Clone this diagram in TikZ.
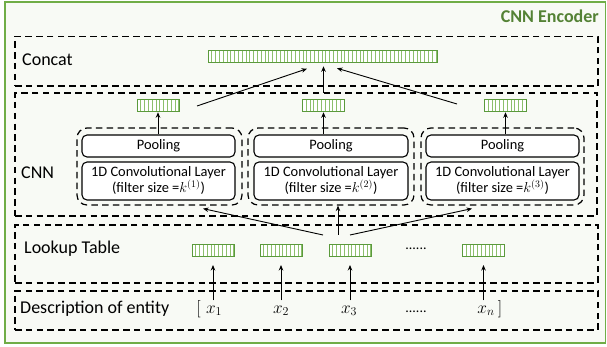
\documentclass[tikz,border=0pt]{standalone}
\usepackage{fontspec}
\setmainfont{Carlito}
\usetikzlibrary{arrows.meta,calc}
\definecolor{bgc}{HTML}{F8FAF5}
\definecolor{framec}{HTML}{70AD47}
\definecolor{hdrc}{HTML}{548235}
\definecolor{vborder}{HTML}{5B9A3C}
\definecolor{vstripe}{HTML}{8DBF6C}
\begin{document}
\begin{tikzpicture}[x=1pt,y=-1pt,
  dashbox/.style={draw, dash pattern=on 6.5pt off 4.3pt, line width=1.2pt},
  grpbox/.style={dashbox, rounded corners=10pt, inner sep=0pt},
  layerbox/.style={draw, line width=1.1pt, rounded corners=5pt, fill=white, inner sep=0pt, align=center, font=\fontsize{14.4}{16}\selectfont},
  vecbox/.style={draw=vborder, line width=1pt, fill=white, inner sep=0pt, outer sep=0pt, minimum height=11.5pt,
    path picture={\foreach \k in {1,...,70}{\draw[vstripe, line width=0.9pt] ([xshift=\k*3.8pt]path picture bounding box.south west) -- ([xshift=\k*3.8pt]path picture bounding box.north west);}}},
  arr/.style={-{Stealth[length=5.5pt,width=4.5pt]}, line width=0.9pt},
  lbl/.style={font=\fontsize{18}{20}\selectfont, anchor=base west, inner sep=0pt},
  mlbl/.style={font=\fontsize{18}{20}\selectfont, anchor=base, inner sep=0pt},
  dots/.style={font=\fontsize{14}{16}\selectfont, anchor=base, inner sep=0pt},
]
\useasboundingbox (0,0) rectangle (607,347);
\fill[white] (0,0) rectangle (607,347);
\draw[framec, fill=bgc, line width=1.5pt] (5,2) rectangle (605.5,343);
\node[anchor=base east, inner sep=0pt, text=hdrc, font=\fontsize{18}{20}\selectfont\bfseries] (hdr) at (599,22.5) {CNN Encoder};

% layer boxes
\node[dashbox, minimum width=583pt, minimum height=49.5pt, inner sep=0pt] (concatbox) at (306.5,61.25) {};
\node[dashbox, minimum width=582pt, minimum height=123pt, inner sep=0pt] (cnnbox) at (306,154.5) {};
\node[dashbox, minimum width=583pt, minimum height=58pt, inner sep=0pt] (lookbox) at (306.5,254) {};
\node[dashbox, minimum width=583pt, minimum height=39pt, inner sep=0pt] (descbox) at (306.5,310.5) {};

\node[lbl] (lconcat) at (22,65.5) {Concat};
\node[lbl] (lcnn) at (21,178.5) {CNN};
\node[lbl] (llook) at (24,254) {Lookup Table};
\node[lbl] (ldesc) at (20,313.3) {Description of entity};

% concat vector
\node[vecbox, minimum width=229pt] (cat) at (322.5,56.5) {};

% groups
\node[grpbox, minimum width=165pt, minimum height=77pt] (g1) at (159.5,166.5) {};
\node[grpbox, minimum width=166pt, minimum height=77pt] (g2) at (331,166.5) {};
\node[grpbox, minimum width=163pt, minimum height=77pt] (g3) at (502.5,166.5) {};

\node[layerbox, minimum width=153pt, minimum height=22pt] (p1) at (158.5,146) {Pooling};
\node[layerbox, minimum width=154pt, minimum height=22pt] (p2) at (331,146) {Pooling};
\node[layerbox, minimum width=153pt, minimum height=22pt] (p3) at (502.5,146) {Pooling};

\node[layerbox, minimum width=153pt, minimum height=38pt] (k1) at (158.5,181) {1D Convolutional Layer\\(filter size =$k^{(1)}$)};
\node[layerbox, minimum width=154pt, minimum height=38pt] (k2) at (331,181) {1D Convolutional Layer\\(filter size =$k^{(2)}$)};
\node[layerbox, minimum width=153pt, minimum height=38pt] (k3) at (502.5,181) {1D Convolutional Layer\\(filter size =$k^{(3)}$)};

% small vectors
\node[vecbox, minimum width=42pt] (c1) at (158,105.5) {};
\node[vecbox, minimum width=42pt] (c2) at (323.5,105.5) {};
\node[vecbox, minimum width=42pt] (c3) at (505.5,105.5) {};

% lookup vectors
\node[vecbox, minimum width=42pt, minimum height=12pt] (l1) at (213,250) {};
\node[vecbox, minimum width=42pt, minimum height=12pt] (l2) at (281,250) {};
\node[vecbox, minimum width=42pt, minimum height=12pt] (l3) at (350,250) {};
\node[vecbox, minimum width=42pt, minimum height=12pt] (ln) at (483.5,250) {};
\node[dots] (d1) at (416,249.5) {......};

% inputs
\node[mlbl] (lb) at (198.5,313) {$[$};
\node[mlbl] (x1) at (214,313) {$x_1$};
\node[mlbl] (x2) at (281,313) {$x_2$};
\node[mlbl] (x3) at (349,313) {$x_3$};
\node[dots] (d2) at (416,312) {......};
\node[mlbl] (xn) at (486,313) {$x_n$};
\node[mlbl] (rb) at (500,313) {$]$};

% arrows inputs -> lookup
\draw[arr] ($(x1.north -| l1.south)+(0,-5)$) -- ($(l1.south)+(0,9)$);
\draw[arr] ($(x2.north -| l2.south)+(0,-5)$) -- ($(l2.south)+(0,9)$);
\draw[arr] ($(x3.north -| l3.south)+(0,-5)$) -- ($(l3.south)+(0,9)$);
\draw[arr] ($(xn.north -| ln.south)+(0,-5)$) -- ($(ln.south)+(0,9)$);

% lookup -> groups
\draw[arr] ($(l3.north west)+(-6,-9)$) -- ($(g1.south)+(43.5,3)$);
\draw[arr] ($(l3.north)+(-12,-9)$) -- ($(g2.south)+(7,0)$);
\draw[arr] ($(l3.north)+(0,-9)$) -- ($(g3.south)+(-30.5,3)$);

% pooling -> small vectors
\draw[arr] (p1.north -| c1.south) -- ($(c1.south)+(0,1)$);
\draw[arr] (p2.north -| c2.south) -- ($(c2.south)+(0,1)$);
\draw[arr] (p3.north -| c3.south) -- ($(c3.south)+(0,1)$);

% small vectors -> concat
\draw[arr] ($(c1.east)+(18,0.5)$) -- ($(cat.south)+(-15.5,6.5)$);
\draw[arr] ($(c2.north)+(0,-6.5)$) -- ($(cat.south -| c2.north)+(0,4)$);
\draw[arr] ($(c3.west)+(-27.5,-1.5)$) -- ($(cat.south)+(14.5,6)$);
\end{tikzpicture}
\end{document}
